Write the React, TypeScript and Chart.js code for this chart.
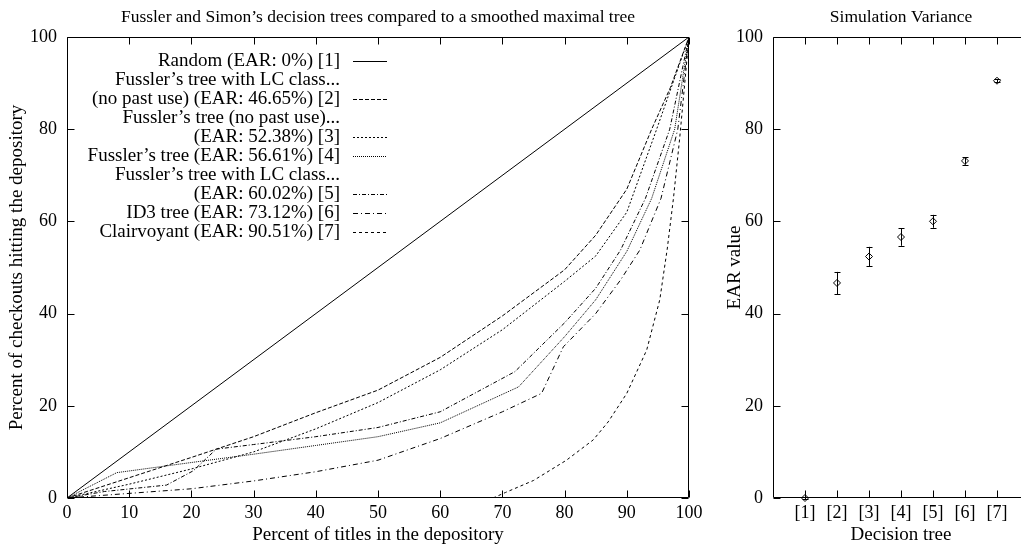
import React, { useEffect, useRef } from "react";
import { Chart, registerables } from "chart.js";

Chart.register(...registerables);

const FONT = '"Liberation Serif", "Times New Roman", Times, serif';

// ---------- left chart data ----------
const leftTitle = "Fussler and Simon’s decision trees compared to a smoothed maximal tree";
const leftXTitle = "Percent of titles in the depository";
const leftYTitle = "Percent of checkouts hitting the depository";

const randX = [0, 100];
const randY = [0, 100];

const lcNoPastX = [0, 10, 20, 24, 30, 40, 50, 60, 70, 80, 85, 90, 94, 97, 100];
const lcNoPastY = [0, 4.4, 8.8, 10.6, 13.3, 18.5, 23.4, 30.5, 39.5, 49.5, 57, 67, 80, 89, 100];

const noPastX = [0, 10, 20, 30, 40, 50, 60, 70, 80, 85, 90, 94.8, 100];
const noPastY = [0, 3, 6.3, 10, 15, 20.7, 27.8, 36.5, 47, 52.5, 62, 80, 100];

const fusslerX = [0, 8, 20, 30, 40, 50, 60, 72.6, 80, 85, 90, 94, 97.7, 100];
const fusslerY = [0, 5.5, 7.7, 9.5, 11.4, 13.3, 16.3, 24.1, 35, 43, 53.5, 65, 80, 100];

const lcX = [0, 6, 16, 20.3, 24, 30, 40, 50, 60, 72, 80, 85, 89, 93, 96.9, 100];
const lcY = [0, 1.4, 2.8, 5.9, 10.6, 11.6, 13.3, 15.3, 18.7, 27.4, 38, 45.5, 53.8, 65, 80, 100];

const id3X = [0, 10, 20, 30, 40, 50, 60, 70, 76.3, 79.8, 85, 89, 92.1, 95.5, 98.2, 100];
const id3Y = [0, 1, 2, 3.7, 5.7, 8.2, 12.9, 18.7, 22.7, 32.8, 40, 47.3, 53.8, 65, 80, 100];

const clairX = [0, 68.5, 70.5, 75, 80.3, 84.6, 87, 90, 93.2, 95.3, 96.5, 97.5, 98.5, 100];
const clairY = [0, 0, 1.2, 3.8, 8.2, 12.6, 16.5, 22.7, 32.1, 43, 54, 65, 78, 100];

const legendLines = [
  "Random (EAR: 0%) [1]",
  "Fussler’s tree with LC class...",
  "(no past use) (EAR: 46.65%) [2]",
  "Fussler’s tree (no past use)...",
  "(EAR: 52.38%) [3]",
  "Fussler’s tree (EAR: 56.61%) [4]",
  "Fussler’s tree with LC class...",
  "(EAR: 60.02%) [5]",
  "ID3 tree (EAR: 73.12%) [6]",
  "Clairvoyant (EAR: 90.51%) [7]",
];
const legendSeries = [0, -1, 1, -1, 2, 3, -1, 4, 5, 6];

// ---------- right chart data ----------
const rightTitle = "Simulation Variance";
const rightXTitle = "Decision tree";
const rightYTitle = "EAR value";
const treeIdx = [1, 2, 3, 4, 5, 6, 7];
const treeLabels = ["[1]", "[2]", "[3]", "[4]", "[5]", "[6]", "[7]"];
const earVals = [0, 46.65, 52.38, 56.61, 60.02, 73.12, 90.51];
const earErr = [0.3, 2.4, 2.1, 1.9, 1.4, 0.8, 0.3];

const zip = (xs: number[], ys: number[]) => xs.map((x, i) => ({ x, y: ys[i] }));

const seriesDefs = [
  { data: zip(randX, randY), dash: [] as number[] },
  { data: zip(lcNoPastX, lcNoPastY), dash: [4, 2] },
  { data: zip(noPastX, noPastY), dash: [2, 2] },
  { data: zip(fusslerX, fusslerY), dash: [1, 1] },
  { data: zip(lcX, lcY), dash: [4, 2, 1, 2] },
  { data: zip(id3X, id3Y), dash: [5, 3, 1, 3] },
  { data: zip(clairX, clairY), dash: [3, 3] },
];

const TICK = 7;

const framePlugin = {
  id: "frame",
  afterDraw(chart: any) {
    const { ctx, chartArea: a, scales } = chart;
    ctx.save();
    ctx.strokeStyle = "#000";
    ctx.lineWidth = 1;
    ctx.setLineDash([]);
    const L = Math.round(a.left) + 0.5;
    const R = Math.round(a.right) - 0.5;
    const T = Math.round(a.top) + 0.5;
    const B = Math.round(a.bottom) - 0.5;
    ctx.beginPath();
    ctx.rect(L, T, R - L, B - T);
    ctx.stroke();
    ctx.beginPath();
    scales.x.ticks.forEach((t: any) => {
      const px = Math.round(scales.x.getPixelForValue(t.value)) + 0.5;
      ctx.moveTo(px, B);
      ctx.lineTo(px, B - TICK);
      ctx.moveTo(px, T);
      ctx.lineTo(px, T + TICK);
    });
    scales.y.ticks.forEach((t: any) => {
      const py = Math.round(scales.y.getPixelForValue(t.value)) + 0.5;
      ctx.moveTo(L, py);
      ctx.lineTo(L + TICK, py);
      ctx.moveTo(R, py);
      ctx.lineTo(R - TICK, py);
    });
    ctx.stroke();
    ctx.restore();
  },
};

const legendPlugin = {
  id: "sideLegend",
  afterDraw(chart: any) {
    const { ctx, chartArea: a } = chart;
    ctx.save();
    ctx.font = `19px ${FONT}`;
    ctx.fillStyle = "#000";
    ctx.strokeStyle = "#000";
    ctx.lineWidth = 1;
    ctx.textAlign = "right";
    ctx.textBaseline = "middle";
    legendLines.forEach((txt, i) => {
      const y = a.top + 24 + i * 19;
      ctx.fillText(txt, a.left + 273, y);
      const si = legendSeries[i];
      if (si >= 0) {
        const ds = chart.data.datasets[si];
        ctx.setLineDash(ds.borderDash || []);
        ctx.beginPath();
        ctx.moveTo(a.left + 286, Math.round(y) + 0.5);
        ctx.lineTo(a.left + 320, Math.round(y) + 0.5);
        ctx.stroke();
      }
    });
    ctx.restore();
  },
};

const errorBarPlugin = {
  id: "errorBars",
  afterDatasetsDraw(chart: any) {
    const { ctx, scales } = chart;
    ctx.save();
    ctx.strokeStyle = "#000";
    ctx.lineWidth = 1;
    ctx.setLineDash([]);
    ctx.beginPath();
    treeIdx.forEach((t, i) => {
      const px = Math.round(scales.x.getPixelForValue(t)) + 0.5;
      const lo = scales.y.getPixelForValue(earVals[i] - earErr[i]);
      const hi = scales.y.getPixelForValue(earVals[i] + earErr[i]);
      ctx.moveTo(px, lo);
      ctx.lineTo(px, hi);
      ctx.moveTo(px - 3, Math.round(lo) + 0.5);
      ctx.lineTo(px + 3, Math.round(lo) + 0.5);
      ctx.moveTo(px - 3, Math.round(hi) + 0.5);
      ctx.lineTo(px + 3, Math.round(hi) + 0.5);
    });
    ctx.stroke();
    ctx.restore();
  },
};

const titleFont = { family: FONT, size: 17.5, weight: "normal" as const };
const tickFont = { family: FONT, size: 18, weight: "normal" as const };
const axisFont = { family: FONT, size: 19, weight: "normal" as const };

function leftConfig(): any {
  return {
    type: "line",
    data: {
      datasets: seriesDefs.map((s, i) => ({
        label: String(i + 1),
        data: s.data,
        borderColor: "#000",
        borderWidth: 1,
        borderDash: s.dash,
        pointRadius: 0,
        fill: false,
        tension: 0,
      })),
    },
    options: {
      animation: false,
      responsive: false,
      devicePixelRatio: 1,
      layout: { padding: { left: 0, right: 21, top: 0, bottom: 0 } },
      plugins: {
        legend: { display: false },
        tooltip: { enabled: false },
        title: {
          display: true,
          text: leftTitle,
          color: "#000",
          font: titleFont,
          fullSize: false,
          padding: { top: 6.5, bottom: 9.5 },
        },
      },
      scales: {
        x: {
          type: "linear",
          min: 0,
          max: 100,
          ticks: { stepSize: 10, color: "#000", font: tickFont, padding: 4, maxRotation: 0 },
          grid: { display: false, drawTicks: false },
          border: { display: false },
          title: { display: true, text: leftXTitle, color: "#000", font: axisFont, padding: { top: 0, bottom: 0 } },
          afterFit: (s: any) => {
            s.height = 48;
          },
        },
        y: {
          type: "linear",
          min: 0,
          max: 100,
          ticks: { stepSize: 20, color: "#000", font: tickFont, padding: 10 },
          grid: { display: false, drawTicks: false },
          border: { display: false },
          title: { display: true, text: leftYTitle, color: "#000", font: axisFont, padding: { top: 5.6, bottom: 0 } },
          afterFit: (s: any) => {
            s.width = 67;
          },
        },
      },
    },
    plugins: [framePlugin, legendPlugin],
  };
}

function rightConfig(): any {
  return {
    type: "scatter",
    data: {
      datasets: [
        {
          label: "EAR",
          data: zip(treeIdx, earVals),
          pointStyle: "rectRot",
          pointRadius: 3.5,
          borderColor: "#000",
          borderWidth: 1,
          backgroundColor: "rgba(0,0,0,0)",
          clip: false,
        },
      ],
    },
    options: {
      animation: false,
      responsive: false,
      devicePixelRatio: 1,
      layout: { padding: { left: 0, right: 16, top: 0, bottom: 0 } },
      plugins: {
        legend: { display: false },
        tooltip: { enabled: false },
        title: {
          display: true,
          text: rightTitle,
          color: "#000",
          font: titleFont,
          fullSize: false,
          padding: { top: 6.5, bottom: 9.5 },
        },
      },
      scales: {
        x: {
          type: "linear",
          min: 0,
          max: 8,
          afterBuildTicks: (s: any) => {
            s.ticks = treeIdx.map((v) => ({ value: v }));
          },
          ticks: {
            color: "#000",
            font: tickFont,
            padding: 4,
            maxRotation: 0,
            autoSkip: false,
            callback: (_v: any, i: number) => treeLabels[i],
          },
          grid: { display: false, drawTicks: false },
          border: { display: false },
          title: { display: true, text: rightXTitle, color: "#000", font: axisFont, padding: { top: 0, bottom: 0 } },
          afterFit: (s: any) => {
            s.height = 48;
          },
        },
        y: {
          type: "linear",
          min: 0,
          max: 100,
          ticks: { stepSize: 20, color: "#000", font: tickFont, padding: 10 },
          grid: { display: false, drawTicks: false },
          border: { display: false },
          title: { display: true, text: rightYTitle, color: "#000", font: axisFont, padding: { top: 23.6, bottom: 0 } },
          afterFit: (s: any) => {
            s.width = 73;
          },
        },
      },
    },
    plugins: [framePlugin, errorBarPlugin],
  };
}

export default function App() {
  const r1 = useRef<HTMLCanvasElement>(null);
  const r2 = useRef<HTMLCanvasElement>(null);
  useEffect(() => {
    const c1 = new Chart(r1.current as HTMLCanvasElement, leftConfig());
    const c2 = new Chart(r2.current as HTMLCanvasElement, rightConfig());
    return () => {
      c1.destroy();
      c2.destroy();
    };
  }, []);
  return (
    <div
      style={{
        position: "fixed",
        left: 0,
        top: 0,
        width: 1021,
        height: 546,
        overflow: "hidden",
        background: "#fff",
      }}
    >
      <canvas
        ref={r1}
        width={710}
        height={546}
        style={{ position: "absolute", left: 0, top: 0, width: 710, height: 546 }}
      />
      <canvas
        ref={r2}
        width={345}
        height={546}
        style={{ position: "absolute", left: 700, top: 0, width: 345, height: 546 }}
      />
    </div>
  );
}
